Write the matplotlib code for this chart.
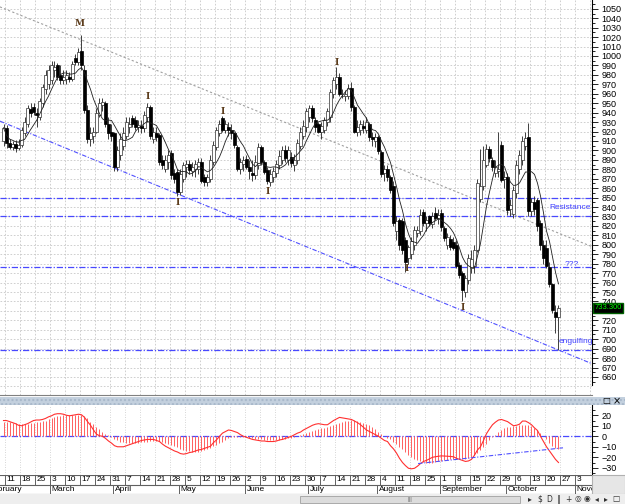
import matplotlib
matplotlib.use("Agg")
import matplotlib.pyplot as plt
import matplotlib.transforms as mtransforms
from matplotlib import font_manager
from matplotlib.patches import Rectangle
import numpy as np
import pandas as pd

# ---- data (daily candles, Feb 8 .. Oct 24, one entry per trading day) ----
opens = [910,
         924, 908, 904, 907, 903,   906, 918, 928, 944, 946,   940, 935, 950, 965, 970,
         975, 985, 990, 980, 975,   976, 978, 976, 998, 994,   1005, 985, 943, 912, 915,
         920, 938, 948, 950, 928,   920, 918, 882, 895, 905,   915, 925, 934, 932, 925,
         926, 924, 935, 946, 912,   918, 916, 890, 880, 888,   897, 876, 877, 856, 870,
         882, 886, 878, 880, 880,   888, 872, 866, 870, 888,   904, 918, 934, 922, 925,
         922, 918, 904, 880, 886,   891, 882, 876, 874, 885,   904, 888, 879, 866, 872,
         876, 884, 890, 900, 890,   893, 884, 890, 905, 915,   925, 935, 945, 932, 928,
         920, 922, 930, 935, 960,   970, 978, 958, 958, 958,   966, 946, 920, 922, 926,
         922, 928, 914, 910, 914,   898, 876, 880, 872, 862,   815, 826, 825, 805, 786,
         790, 800, 813, 815, 835,   823, 830, 822, 834, 828,   834, 818, 800, 806, 803,
         800, 779, 770, 750, 763,   775, 778, 795, 848, 862,   885, 902, 890, 876, 878,
         906, 870, 872, 838, 833,   855, 880, 890, 905, 914,   836, 845, 847, 823, 800,
         797, 777, 758, 729, 724]
highs = [928,
         927, 912, 910, 911, 912,   925, 935, 948, 950, 950,   945, 955, 970, 985, 990,
         995, 995, 993, 990, 985,   985, 983, 995, 1002, 1008,  1022, 990, 948, 925, 925,
         945, 955, 955, 952, 935,   928, 920, 905, 918, 925,   935, 935, 938, 936, 932,
         932, 942, 950, 948, 925,   925, 918, 895, 895, 900,   900, 880, 880, 880, 888,
         890, 890, 888, 890, 892,   892, 875, 875, 895, 910,   925, 932, 936, 932, 930,
         928, 920, 906, 892, 894,   895, 890, 890, 895, 908,   906, 890, 882, 880, 882,
         890, 900, 905, 906, 905,   898, 896, 912, 925, 932,   945, 948, 948, 935, 930,
         930, 935, 945, 965, 978,   988, 982, 965, 964, 970,   972, 948, 932, 932, 932,
         935, 930, 920, 918, 916,   900, 885, 884, 874, 868,   830, 828, 828, 808, 800,
         808, 820, 820, 838, 838,   830, 832, 835, 840, 838,   838, 820, 812, 810, 808,
         805, 782, 772, 768, 790,   795, 800, 870, 902, 905,   907, 905, 893, 890, 920,
         910, 878, 876, 848, 862,   890, 900, 915, 920, 929,   850, 852, 850, 826, 805,
         805, 782, 760, 736, 736]
lows = [905,
        903, 902, 900, 898, 900,   904, 915, 925, 935, 938,   925, 932, 946, 960, 965,
        970, 978, 975, 970, 970,   970, 972, 974, 990, 990,   985, 940, 908, 905, 908,
        918, 935, 942, 925, 912,   910, 878, 878, 890, 900,   912, 918, 925, 922, 920,
        918, 920, 930, 912, 908,   910, 885, 880, 877, 880,   870, 865, 852, 853, 866,
        872, 875, 873, 872, 875,   865, 862, 862, 866, 885,   900, 915, 920, 918, 915,
        912, 903, 878, 875, 878,   880, 870, 868, 870, 880,   885, 875, 864, 862, 866,
        872, 880, 886, 888, 885,   882, 878, 886, 902, 912,   920, 930, 930, 920, 918,
        912, 918, 926, 930, 955,   965, 958, 955, 952, 954,   942, 918, 915, 916, 918,
        918, 910, 905, 904, 896,   872, 868, 868, 855, 820,   805, 795, 790, 771, 780,
        785, 795, 808, 810, 820,   815, 820, 818, 826, 822,   815, 804, 796, 795, 795,
        775, 765, 740, 745, 758,   770, 770, 792, 845, 858,   882, 888, 878, 872, 872,
        866, 860, 832, 830, 828,   850, 875, 885, 900, 830,   830, 832, 815, 795, 780,
        775, 755, 728, 707, 689]
closes = [924,
          908, 904, 907, 903, 906,   922, 930, 945, 940, 941,   937, 952, 967, 980, 985,
          990, 988, 978, 975, 978,   980, 976, 992, 994, 1004,  990, 943, 912, 918, 920,
          940, 950, 951, 928, 918,   915, 882, 900, 912, 918,   930, 928, 928, 925, 927,
          924, 938, 946, 915, 920,   914, 888, 884, 890, 895,   874, 870, 856, 875, 884,
          886, 879, 882, 886, 888,   868, 866, 872, 890, 906,   922, 928, 922, 928, 922,
          918, 906, 880, 888, 890,   882, 878, 874, 888, 904,   888, 877, 868, 875, 878,
          886, 894, 900, 892, 900,   887, 890, 908, 920, 926,   942, 945, 934, 925, 920,
          926, 932, 942, 962, 975,   978, 960, 958, 960, 966,   946, 920, 925, 928, 924,
          930, 914, 912, 914, 899,   875, 880, 872, 858, 823,   825, 800, 795, 782, 798,
          804, 816, 816, 832, 823,   826, 823, 830, 828, 832,   819, 807, 808, 798, 797,
          778, 768, 752, 765, 786,   785, 795, 865, 862, 890,   902, 892, 882, 882, 880,
          869, 872, 837, 842, 858,   885, 895, 910, 913, 836,   845, 838, 820, 800, 786,
          778, 758, 731, 724, 733]

# oscillator (histogram bars and red line)
osc_hist = [14,
            14, 13.5, 13, 12.5, 12,   12, 12, 12, 12.5, 13,   13.5, 14, 14.5, 15, 16,
            17, 18, 19, 19.5, 20,   20, 20, 20, 20, 20,   20, 19.5, 17, 14, 11.5,
            9, 6.5, 4.5, 2.5, 1,   -1, -2.5, -4, -5, -5.5,   -6, -6.5, -6.5, -6.5, -6,
            -5.5, -5, -5, -4.5, -4.5,   -4.5, -4.5, -5, -6, -7,   -8, -9, -10.5, -12, -13,
            -14, -14.5, -15, -15, -15,   -14.5, -13.5, -12.5, -11, -9.5,   -8, -6.5, -5, -3.5, -2,
            -1, -0.5, -0.5, -0.5, -0.5,   -1, -1.5, -2, -2.5, -3,   -3, -3.5, -3.5, -3.5, -3.5,
            -3.5, -3.5, -3, -2.5, -2,   -1.5, -1, 0, 1, 2,   3, 4, 5, 6, 7,
            7.5, 8, 8.5, 9.5, 10.5,   12, 13, 14, 14.5, 15,   15.5, 15.5, 15, 14, 13,
            12, 10.5, 8.5, 6.5, 4.5,   2.5, 0.5, -1.5, -3, -5,   -7.5, -10, -12.5, -15, -17.5,
            -19.5, -21.5, -23, -24, -24.5,   -25, -25, -25, -24.5, -24,   -23.5, -23, -22.5, -22, -21.5,
            -21.5, -21.5, -21.5, -21.5, -21,   -20, -18, -16, -13, -10,   -7, -4, -1, 1.5, 4,
            6, 7.5, 8.5, 9, 9.5,   10, 10.5, 11, 11, 10.5,   9.5, 8, 6, 3, 0,
            -3, -6, -9, -11, -12]
osc_line = [15,
            15, 14, 13, 12, 10.5,   10, 11, 12, 13.5, 15,   15.5, 15.5, 16, 17, 18.5,
            19.5, 21, 21.5, 21.5, 21,   20, 19.5, 20, 20.5, 21,   20.5, 18, 14, 10.5, 6,
            2, 0.5, 0, -2, -4.5,   -6.5, -9, -10, -10, -10,   -9, -8, -7, -6, -5,
            -4, -3.5, -3, -3, -3,   -4, -5, -7.5, -9.5, -11,   -12.5, -14, -15, -16.5, -17,
            -16.5, -15.5, -15, -14, -13,   -12.5, -11.5, -10.5, -9.5, -6,   -3.5, 0, 3, 4.5, 6,
            5.5, 4.5, 3.5, 1.5, 0,   -1, -2, -3, -3.5, -4,   -4.5, -4.5, -5, -5, -5,
            -4.5, -3.5, -3, -2, -1,   0, 1.5, 3, 4, 6,   7.5, 9, 10.5, 11.5, 12,
            11.5, 11, 11, 13, 15,   16.5, 18, 17.5, 17, 16.5,   16, 14.5, 13, 11, 8.5,
            6, 4.5, 3, 1.5, 0,   -2, -4, -5, -9, -12,   -16, -21, -25, -28, -30.5,
            -31, -30.5, -28.5, -26, -24,   -23, -21.5, -20, -19.5, -19,   -18.7, -18.8, -19, -19.2, -19.5,
            -21, -22, -23, -24, -23.5,   -22, -18, -13, -10, -4,   2.5, 7, 11, 13.5, 15.5,
            16, 15, 14, 12, 10,   10.5, 11.5, 14.5, 14.5, 13,   11, 8, 5.5, 0, -5,
            -10, -14, -18, -22, -25]

first_day = -1      # Feb 8; day 0 is Monday Feb 11
ma_window = 7
last_price = 733.300

week_labels = ["11", "18", "25", "3", "10", "17", "24", "31", "7", "14", "21", "28",
               "5", "12", "19", "26", "2", "9", "16", "23", "30", "7", "14", "21", "28",
               "4", "11", "18", "25", "1", "8", "15", "22", "29", "6", "13", "20", "27", "3"]
month_names = ["February", "March", "April", "May", "June", "July", "August",
               "September", "October", "November"]
month_start = [-6, 15, 36, 58, 80, 101, 124, 145, 167, 190]

# drawn objects on the chart
hlevels = [850, 830, 777, 689]
upper_trend = ([-2.2, 195.2], [1052, 798])
lower_trend = ([-2.2, 195.2], [931, 674])
osc_trend = ([137.2, 185.5], [-26, -11])
pattern_marks = [(24.5, 1034, "M"), (47.2, 957, "I"), (57.2, 845, "I"), (72.2, 941, "I"),
                 (87.2, 856, "I"), (110.2, 993, "I"), (133.5, 775, "I"), (152.2, 734, "I")]
notes = [(194.8, 839, "Resistance", "right"), (188.5, 779, "???", "center"),
         (184.2, 698, "engulfing", "left")]

# ---- fonts ----
names = {f.name for f in font_manager.fontManager.ttflist}
narrow = "Liberation Sans Narrow" if "Liberation Sans Narrow" in names else "Liberation Sans"
plt.rcParams["font.family"] = [narrow, "DejaVu Sans"]

W, H = 625, 504
fig = plt.figure(figsize=(W / 100, H / 100), dpi=100)
fig.patch.set_facecolor("white")


def fax(x0, y0, x1, y1):
    # pixel box (top-left origin) -> axes
    return fig.add_axes([x0 / W, 1 - y1 / H, (x1 - x0) / W, (y1 - y0) / H])


days = np.arange(first_day, first_day + len(closes))
xlim = (-2.167, 195.17)
week_edges = np.arange(0, 41) * 5 - 0.5
grid_kw = dict(color="#c8c8c8", lw=0.6, dashes=(2, 2))

df = pd.DataFrame({"o": opens, "h": highs, "l": lows, "c": closes}, index=days)
ma = df["c"].rolling(ma_window, min_periods=1).mean()

# ---- main price panel ----
ax = fax(0, 0, 592, 395)
ax.set_xlim(*xlim)
ax.set_ylim(640.9, 1059.3)
for e in week_edges:
    ax.axvline(e, zorder=0, **grid_kw)
for p in range(650, 1060, 10):
    ax.axhline(p, zorder=0, **grid_kw)

ax.plot(*upper_trend, color="#a0a0a0", lw=0.8, dashes=(2, 2), zorder=1)
ax.plot(*lower_trend, color="#5050ff", lw=0.8, dashes=(4, 1.5, 1, 1.5), zorder=1)
for lv in hlevels:
    ax.axhline(lv, color="#4848ff", lw=0.9, dashes=(5, 1.5, 1, 1.5), zorder=1)

up = df["c"] >= df["o"]
ax.vlines(df.index, df["l"], df["h"], color="#202020", lw=0.6, zorder=2)
ax.bar(df.index[up], (df["c"] - df["o"])[up], bottom=df["o"][up], width=0.7,
       color="white", edgecolor="#303030", lw=0.5, zorder=3)
ax.bar(df.index[~up], (df["o"] - df["c"])[~up], bottom=df["c"][~up], width=0.7,
       color="black", edgecolor="black", lw=0.5, zorder=3)
ax.plot(df.index, ma, color="#202020", lw=0.6, zorder=4)

for x, y, s in pattern_marks:
    ax.text(x, y, s, color="#5a3a1a", fontsize=6.5, fontweight="bold",
            ha="center", va="center", family="DejaVu Serif")
for x, y, s, ha in notes:
    ax.text(x, y, s, color="#4040ff", fontsize=6, ha=ha, va="center")

ax.yaxis.tick_right()
ax.set_yticks(range(660, 1060, 10))
ax.set_yticks(range(655, 1060, 10), minor=True)
ax.tick_params(axis="y", which="major", length=4, width=0.6, pad=3, labelsize=6.5)
ax.tick_params(axis="y", which="minor", length=2, width=0.6)
ax.set_xticks([])
for s in ["left", "top"]:
    ax.spines[s].set_visible(False)
ax.spines["right"].set_linewidth(0.8)
ax.spines["right"].set_bounds(651, 1059.3)
ax.spines["bottom"].set_color("#808080")

trans = mtransforms.blended_transform_factory(ax.transAxes, ax.transData)
ax.text(1.004, last_price, f"{last_price:.3f}", transform=trans, color="#00ff00",
        fontsize=5.5, ha="left", va="center", clip_on=False, zorder=10,
        bbox=dict(facecolor="black", edgecolor="#006000", pad=1.0))

# ---- separator band ----
fig.patches.append(Rectangle((0, 1 - 405 / H), 1, 8 / H, transform=fig.transFigure,
                             facecolor="#c3d0de", edgecolor="#a7b7c9", hatch="....",
                             lw=0, zorder=5))
fig.text(606 / W, 1 - 401 / H, "□", fontsize=6, ha="center", va="center",
         family="DejaVu Sans", zorder=6)
fig.text(617 / W, 1 - 401 / H, "×", fontsize=7, ha="center", va="center",
         family="DejaVu Sans", zorder=6)

# ---- oscillator panel ----
ax2 = fax(0, 405, 592, 475)
ax2.set_xlim(*xlim)
ax2.set_ylim(-36.9, 29.8)
for e in week_edges:
    ax2.axvline(e, color="#c8c8c8", lw=0.6, dashes=(1, 2), zorder=0)
ax2.axhline(0, color="#4848ff", lw=0.9, dashes=(5, 1.5, 1, 1.5), zorder=1)
ax2.vlines(days, 0, osc_hist, color="#ff6060", lw=0.7, zorder=2)
ax2.plot(days, osc_line, color="#ff3030", lw=0.8, zorder=3)
ax2.plot(*osc_trend, color="#5050ff", lw=0.8, dashes=(4, 1.5, 1, 1.5), zorder=3)
ax2.yaxis.tick_right()
ax2.set_yticks([20, 10, 0, -10, -20, -30])
ax2.set_yticks([25, 15, 5, -5, -15, -25, -35], minor=True)
ax2.tick_params(axis="y", which="major", length=4, width=0.6, pad=3, labelsize=6.5)
ax2.tick_params(axis="y", which="minor", length=2, width=0.6)
ax2.set_xticks([])
for s in ["left", "top", "bottom"]:
    ax2.spines[s].set_visible(False)
ax2.spines["right"].set_linewidth(0.8)

# ---- date axis ----
ax3 = fax(0, 475, 592, 494)
ax3.set_xlim(*xlim)
ax3.set_ylim(0, 2)
ax3.axis("off")
for yy in (0, 1, 2):
    ax3.axhline(yy, color="#606060", lw=0.8)
for w, lab in enumerate(week_labels):
    e = w * 5 - 0.5
    ax3.plot([e, e], [1, 2], color="#606060", lw=0.7)
    ax3.text(e + 0.5, 1.5, lab, fontsize=6, ha="left", va="center", clip_on=True)
for m, s in zip(month_names, month_start):
    e = s - 0.5
    ax3.plot([e, e], [0, 1], color="#606060", lw=0.7)
    ax3.text(e + 0.5, 0.5, m, fontsize=6, ha="left", va="center", clip_on=True)

fig.patches.append(Rectangle((592 / W, 1 - 494 / H), 33 / W, 19 / H,
                             transform=fig.transFigure, facecolor="#e6e6e6",
                             edgecolor="#b0b0b0", lw=0.8))

# ---- scrollbar strip ----
fig.patches.append(Rectangle((0, 0), 1, 10 / H, transform=fig.transFigure,
                             facecolor="#eeeeee", edgecolor="none"))
fig.patches.append(Rectangle((300 / W, 1.5 / H), 220 / W, 7 / H, transform=fig.transFigure,
                             facecolor="#dcdcdc", edgecolor="#a0a0a0", lw=0.6))
fig.text(410 / W, 5 / H, "|||", fontsize=4.5, ha="center", va="center", color="#707070")
icons = ["▸", "$", "D", "‖", "+", "◎", "◉", "◂", "▸", "□"]
for k, ic in enumerate(icons):
    fig.text((530 + k * 9.5) / W, 5 / H, ic, fontsize=5.5, ha="center", va="center",
             color="#303030", family="DejaVu Sans")

fig.savefig("out.png", dpi=100)
